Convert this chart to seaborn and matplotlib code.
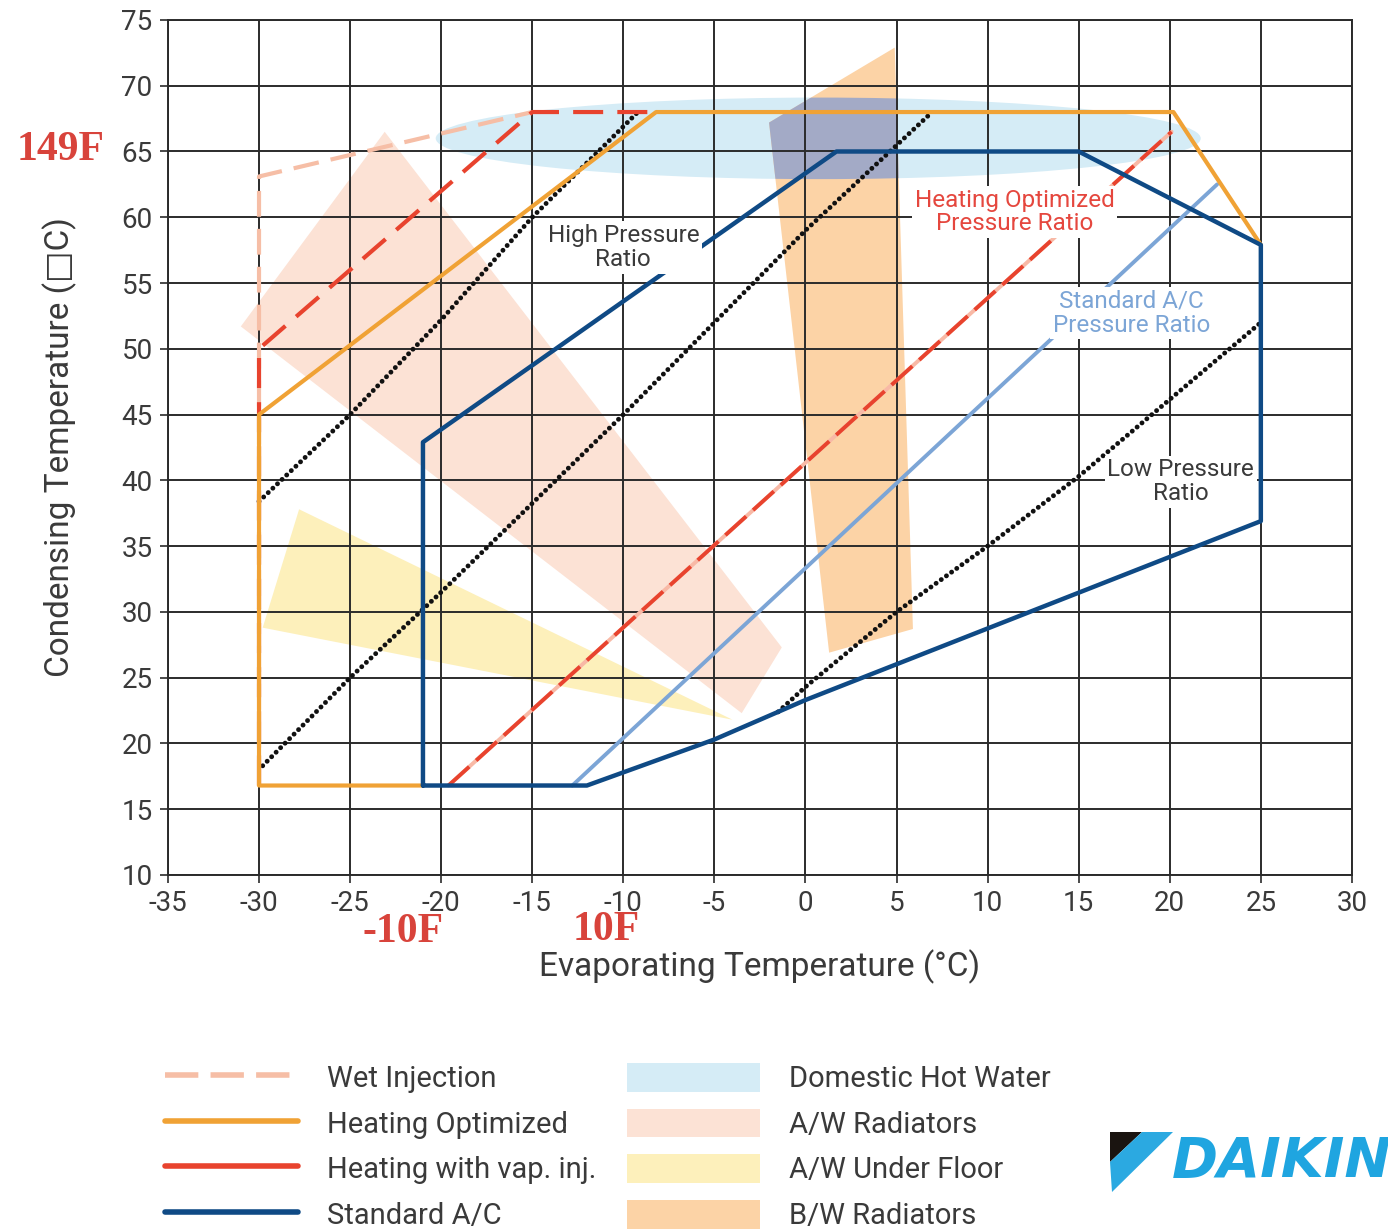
import seaborn as sns
import matplotlib.pyplot as plt
from matplotlib.lines import Line2D
from matplotlib.patches import Patch, Ellipse, Polygon

# --- envelope outlines (evaporating C, condensing C) ---
wet_x = [-30, -30, -15]
wet_y = [16.8, 63.1, 68]
vap_x = [-30, -30, -15, -8.2]
vap_y = [16.8, 50, 68, 68]
heat_x = [-21, -30, -30, -8.2, 20.2, 25]
heat_y = [16.8, 16.8, 45, 68, 68, 57.9]
ac_x = [-21, -21, 1.7, 15, 25, 25, 0, -5, -12, -21]
ac_y = [16.8, 42.9, 65, 65, 57.9, 36.9, 23.3, 20.3, 16.8, 16.8]

# --- pressure ratio lines ---
hp1_x = [-30, -25, -20, -15, -9.2]
hp1_y = [38.4, 45, 52.2, 60, 68]
hp2_x = [-29.8, -25, -20, -10, 0, 6.8]
hp2_y = [18.3, 25, 31.5, 45, 59, 67.8]
lp_x = [-1.5, 0, 5, 10, 15, 25]
lp_y = [22.4, 24.3, 30, 35, 40.3, 52]
heat_pr_x = [-19.6, 20.1]
heat_pr_y = [16.8, 66.5]
ac_pr_x = [-12.8, 22.6]
ac_pr_y = [16.8, 62.5]

# --- application areas ---
aw_rad_x = [-23.1, -31, -3.5, -1.3]
aw_rad_y = [66.5, 51.7, 22.3, 27.3]
aw_floor_x = [-27.8, -29.8, -4.0]
aw_floor_y = [37.8, 28.8, 21.8]
bw_rad_x = [4.9, -2.0, 1.3, 5.9]
bw_rad_y = [72.9, 67.2, 26.9, 28.7]
dhw_center = (0.7, 66.0)
dhw_width = 42
dhw_height = 6.2

line_labels = ["Wet Injection", "Heating Optimized", "Heating with vap. inj.", "Standard A/C"]
area_labels = ["Domestic Hot Water", "A/W Radiators", "A/W Under Floor", "B/W Radiators"]

c_wet = "#f6bea6"
c_heat = "#f0a235"
c_vap = "#e8432e"
c_ac = "#0f4a85"
c_acpr = "#7ca5d6"
c_dhw = "#d5ecf6"
c_awrad = "#fce2d5"
c_floor = "#fdf0bb"
c_bw = "#fcd3a6"

sns.set_theme(style="white")
plt.rcParams["font.family"] = ["Roboto", "DejaVu Sans"]
plt.rcParams["axes.unicode_minus"] = False
txt = "#3a3a3a"

fig = plt.figure(figsize=(13.88, 12.32), dpi=100)
ax = fig.add_axes([0.121, 0.2898, 0.853, 0.694])

# shaded areas
dhw = Ellipse(dhw_center, dhw_width, dhw_height, facecolor=c_dhw, edgecolor="none", zorder=0.9)
ax.add_patch(dhw)
ax.fill(aw_rad_x, aw_rad_y, color=c_awrad, lw=0, zorder=0.95)
ax.fill(aw_floor_x, aw_floor_y, color=c_floor, lw=0, zorder=0.95)
ax.fill(bw_rad_x, bw_rad_y, color=c_bw, lw=0, zorder=1.0)
ov = ax.fill(bw_rad_x, bw_rad_y, color="#a3aac6", lw=0, zorder=1.05)
ov[0].set_clip_path(dhw)

# pressure ratio lines
dot = (0, (0.01, 1.3))
for xs, ys in [(hp1_x, hp1_y), (hp2_x, hp2_y), (lp_x, lp_y)]:
    sns.lineplot(x=xs, y=ys, sort=False, estimator=None, color="#111111", lw=3.5,
                 linestyle=dot, dash_capstyle="round", ax=ax, zorder=2)
sns.lineplot(x=heat_pr_x, y=heat_pr_y, sort=False, estimator=None, color="#f8b9a6", lw=2.8, ax=ax, zorder=2)
sns.lineplot(x=heat_pr_x, y=heat_pr_y, sort=False, estimator=None, color=c_vap, lw=2.8,
             linestyle=(0, (7.2, 2.4)), ax=ax, zorder=2.1)
sns.lineplot(x=ac_pr_x, y=ac_pr_y, sort=False, estimator=None, color=c_acpr, lw=2.8, ax=ax, zorder=2)

# envelopes
sns.lineplot(x=wet_x, y=wet_y, sort=False, estimator=None, color=c_wet, lw=3,
             linestyle=(0, (6.2, 2.9)), ax=ax, zorder=3)
sns.lineplot(x=vap_x, y=vap_y, sort=False, estimator=None, color=c_vap, lw=3,
             linestyle=(0, (7.2, 3.4)), ax=ax, zorder=3.1)
sns.lineplot(x=heat_x, y=heat_y, sort=False, estimator=None, color=c_heat, lw=3, ax=ax, zorder=3.2)
sns.lineplot(x=ac_x, y=ac_y, sort=False, estimator=None, color=c_ac, lw=3.2, ax=ax, zorder=3.3)

# labels on the chart
box = dict(facecolor="white", edgecolor="none", pad=2)
ax.text(-10, 57.7, "High Pressure\nRatio", ha="center", va="center", fontsize=17.5,
        color=txt, linespacing=1.05, bbox=box, zorder=5)
ax.text(11.5, 60.4, "Heating Optimized\nPressure Ratio", ha="center", va="center", fontsize=17.5,
        color="#e5473e", linespacing=1.05, bbox=box, zorder=5)
ax.text(17.9, 52.7, "Standard A/C\nPressure Ratio", ha="center", va="center", fontsize=17.5,
        color=c_acpr, linespacing=1.05, bbox=box, zorder=5)
ax.text(20.6, 39.9, "Low Pressure\nRatio", ha="center", va="center", fontsize=17.5,
        color=txt, linespacing=1.05, bbox=box, zorder=5)

# axes styling
ax.set_xlim(-35, 30)
ax.set_ylim(10, 75)
ax.set_xticks(range(-35, 31, 5))
ax.set_yticks(range(10, 76, 5))
ax.set_axisbelow("line")
ax.grid(True, color="#2b2b2b", lw=1.4)
for s in ax.spines.values():
    s.set_color("#2b2b2b")
    s.set_linewidth(1.4)
ax.tick_params(axis="both", which="major", direction="out", length=6, width=1.2,
               color="#2b2b2b", labelsize=20, labelcolor=txt, pad=5,
               bottom=True, left=True)
ax.set_xlabel("Evaporating Temperature (°C)", fontsize=24, color=txt, labelpad=23)
ax.set_ylabel("Condensing Temperature (\u25a1C)", fontsize=24, color=txt, labelpad=32)

# red annotations
red_font = dict(family=["Liberation Serif", "DejaVu Serif"], weight="bold", color="#d8433b", fontsize=30)
fig.text(105 / 1388, 1 - 150 / 1232, "149F", ha="right", va="center", **red_font)
fig.text(403 / 1388, 1 - 932 / 1232, "-10F", ha="center", va="center", **red_font)
fig.text(606 / 1388, 1 - 930 / 1232, "10F", ha="center", va="center", **red_font)

# legend
handles = [
    Line2D([], [], color=c_wet, lw=4, linestyle=(0, (6, 2.2))),
    Line2D([], [], color=c_heat, lw=4),
    Line2D([], [], color=c_vap, lw=4),
    Line2D([], [], color=c_ac, lw=4),
    Patch(facecolor=c_dhw, edgecolor="none"),
    Patch(facecolor=c_awrad, edgecolor="none"),
    Patch(facecolor=c_floor, edgecolor="none"),
    Patch(facecolor=c_bw, edgecolor="none"),
]
leg = fig.legend(handles, line_labels + area_labels, ncol=2, loc="upper left",
                 bbox_to_anchor=(165 / 1388, 1 - 1063 / 1232), frameon=False, fontsize=21,
                 handlelength=4.55, handleheight=1.15, handletextpad=1.0, columnspacing=1.07,
                 labelspacing=0.52, borderpad=0, borderaxespad=0)
for t in leg.get_texts():
    t.set_color(txt)

# Daikin logo
def fpt(px, py):
    return (px / 1388, 1 - py / 1232)

fig.patches.append(Polygon([fpt(1110, 1132), fpt(1142, 1132), fpt(1110, 1162)],
                           closed=True, transform=fig.transFigure, facecolor="#1a1410", edgecolor="none"))
fig.patches.append(Polygon([fpt(1142, 1132), fpt(1173, 1132), fpt(1112, 1192), fpt(1110, 1162)],
                           closed=True, transform=fig.transFigure, facecolor="#2ba9e1", edgecolor="none"))
fig.text(1172 / 1388, 1 - 1162 / 1232, "DAIKIN", ha="left", va="center", fontsize=40,
         family="DejaVu Sans", weight="bold", style="italic", color="#1fa5e0")

fig.savefig("out.png", dpi=100)
